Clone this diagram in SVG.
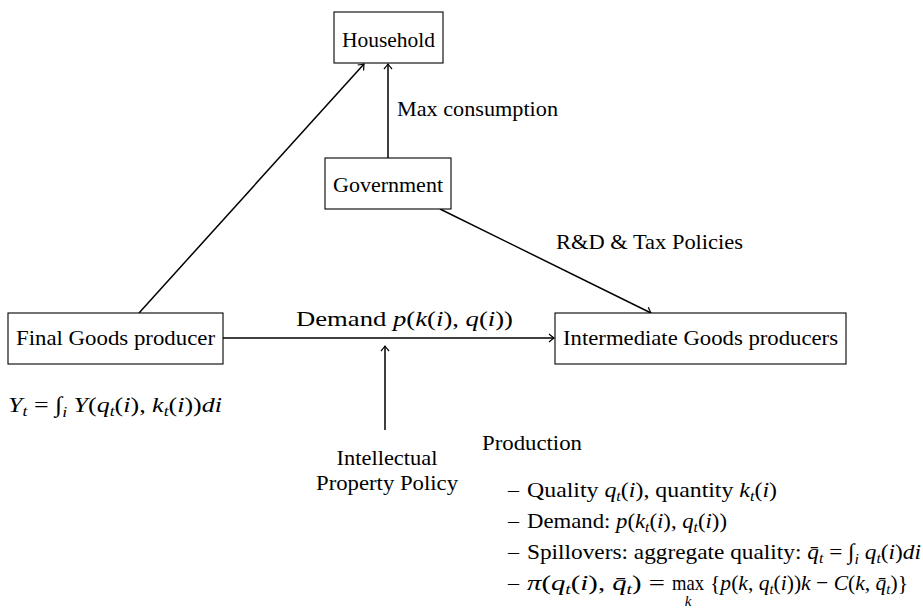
<svg xmlns="http://www.w3.org/2000/svg" width="923" height="608" viewBox="0 0 923 608">
<defs>
<style>
.box{fill:#fff;stroke:#000;stroke-width:1.1}
.t{font-family:"Liberation Serif","DejaVu Serif",serif;font-size:22px;fill:#000}
.c{text-anchor:middle}
.i{font-style:italic}
.s{font-size:15px}
.e{stroke:#000;stroke-width:1.5;fill:none;marker-end:url(#arr)}
</style>
<marker id="arr" viewBox="-6 -5 8 10" markerWidth="8" markerHeight="10" refX="0" refY="0" orient="auto" markerUnits="userSpaceOnUse">
<path d="M -5 -4 Q -1.5 -1 0 0 Q -1.5 1 -5 4" fill="none" stroke="#000" stroke-width="1.2"/>
</marker>
</defs>
<rect width="923" height="608" fill="#fff"/>
<g id="connectors">
<line class="e" x1="139" y1="313" x2="364" y2="64"/>
<line class="e" x1="388" y1="158" x2="388" y2="64"/>
<line class="e" x1="440" y1="209" x2="651" y2="313"/>
<line class="e" x1="223" y1="338" x2="554" y2="338"/>
<line class="e" x1="385" y1="430" x2="385" y2="346"/>
<text class="t" x="397" y="116" textLength="161" lengthAdjust="spacingAndGlyphs">Max consumption</text>
<text class="t" x="556" y="249" textLength="187" lengthAdjust="spacingAndGlyphs">R&amp;D &amp; Tax Policies</text>
<text class="t" x="296" y="326" textLength="217" lengthAdjust="spacingAndGlyphs">Demand  <tspan class="i">p</tspan>(<tspan class="i">k</tspan>(<tspan class="i">i</tspan>),  <tspan class="i">q</tspan>(<tspan class="i">i</tspan>))</text>
</g>
<g id="household">
<rect class="box" x="334" y="12" width="109" height="51"/>
<text class="t c" x="388.5" y="47" textLength="93" lengthAdjust="spacingAndGlyphs">Household</text>
</g>
<g id="government">
<rect class="box" x="325" y="158" width="126" height="51"/>
<text class="t c" x="388" y="192" textLength="110" lengthAdjust="spacingAndGlyphs">Government</text>
</g>
<g id="final-goods">
<rect class="box" x="8" y="313" width="215" height="51"/>
<text class="t c" x="115.5" y="345" textLength="199" lengthAdjust="spacingAndGlyphs">Final Goods producer</text>
</g>
<g id="intermediate-goods">
<rect class="box" x="555" y="313" width="291" height="51"/>
<text class="t c" x="700.5" y="345" textLength="275" lengthAdjust="spacingAndGlyphs">Intermediate Goods producers</text>
</g>
<g id="final-formula">
<text class="t" x="8" y="412" textLength="214" lengthAdjust="spacingAndGlyphs"><tspan class="i">Y</tspan><tspan class="i s" dy="4">t</tspan><tspan dy="-4">  =  ∫</tspan><tspan class="i s" dy="5">i</tspan><tspan dy="-5">  </tspan><tspan class="i">Y</tspan>(<tspan class="i">q</tspan><tspan class="i s" dy="4">t</tspan><tspan dy="-4">(</tspan><tspan class="i">i</tspan>), <tspan class="i">k</tspan><tspan class="i s" dy="4">t</tspan><tspan dy="-4">(</tspan><tspan class="i">i</tspan>))<tspan class="i">di</tspan></text>
</g>
<g id="ip-policy">
<text class="t c" x="387" y="465" textLength="101" lengthAdjust="spacingAndGlyphs">Intellectual</text>
<text class="t c" x="387" y="490" textLength="142" lengthAdjust="spacingAndGlyphs">Property Policy</text>
</g>
<g id="production">
<text class="t" x="482" y="450" textLength="100" lengthAdjust="spacingAndGlyphs">Production</text>
<text class="t" x="508" y="497">–</text>
<text class="t" x="527" y="497" textLength="250" lengthAdjust="spacingAndGlyphs">Quality <tspan class="i">q</tspan><tspan class="i s" dy="4">t</tspan><tspan dy="-4">(</tspan><tspan class="i">i</tspan>), quantity <tspan class="i">k</tspan><tspan class="i s" dy="4">t</tspan><tspan dy="-4">(</tspan><tspan class="i">i</tspan>)</text>
<text class="t" x="508" y="528">–</text>
<text class="t" x="527" y="528" textLength="200" lengthAdjust="spacingAndGlyphs">Demand:  <tspan class="i">p</tspan>(<tspan class="i">k</tspan><tspan class="i s" dy="4">t</tspan><tspan dy="-4">(</tspan><tspan class="i">i</tspan>), <tspan class="i">q</tspan><tspan class="i s" dy="4">t</tspan><tspan dy="-4">(</tspan><tspan class="i">i</tspan>))</text>
<text class="t" x="508" y="559">–</text>
<text class="t" x="527" y="559" textLength="394" lengthAdjust="spacingAndGlyphs">Spillovers:  aggregate quality:  <tspan class="i">q̄</tspan><tspan class="i s" dy="4">t</tspan><tspan dy="-4"> = ∫</tspan><tspan class="i s" dy="5">i</tspan><tspan dy="-5"> </tspan><tspan class="i">q</tspan><tspan class="i s" dy="4">t</tspan><tspan dy="-4">(</tspan><tspan class="i">i</tspan>)<tspan class="i">di</tspan></text>
<text class="t" x="508" y="590">–</text>
<text class="t" x="527" y="590" textLength="138" lengthAdjust="spacingAndGlyphs"><tspan class="i">π</tspan>(<tspan class="i">q</tspan><tspan class="i s" dy="4">t</tspan><tspan dy="-4">(</tspan><tspan class="i">i</tspan>),  <tspan class="i">q̄</tspan><tspan class="i s" dy="4">t</tspan><tspan dy="-4">)   =</tspan></text>
<text class="t" x="672" y="590" textLength="32" lengthAdjust="spacingAndGlyphs">max</text>
<text class="t" x="710" y="590" textLength="198" lengthAdjust="spacingAndGlyphs">{<tspan class="i">p</tspan>(<tspan class="i">k</tspan>, <tspan class="i">q</tspan><tspan class="i s" dy="4">t</tspan><tspan dy="-4">(</tspan><tspan class="i">i</tspan>))<tspan class="i">k</tspan> − <tspan class="i">C</tspan>(<tspan class="i">k</tspan>, <tspan class="i">q̄</tspan><tspan class="i s" dy="4">t</tspan><tspan dy="-4">)}</tspan></text>
<text class="t i s c" x="688" y="606">k</text>
</g>
</svg>
